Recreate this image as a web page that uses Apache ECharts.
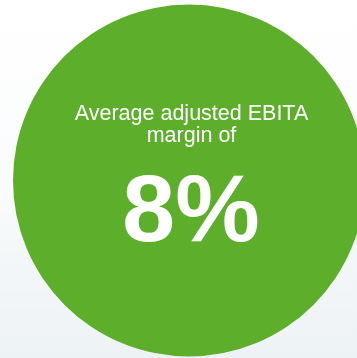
<!DOCTYPE html>
<html>
<head>
<meta charset="utf-8">
<script src="https://cdn.jsdelivr.net/npm/echarts@6/dist/echarts.min.js"></script>
<style>
html,body{margin:0;padding:0;}
#chart{width:357px;height:358px;}
</style>
</head>
<body>
<div id="chart"></div>
<script>
const categories = ["Average adjusted EBITA margin"];
const values = [8];
const labelLines = ["Average adjusted EBITA", "margin of"];
const valueLabel = ["8%"];

const chart = echarts.init(document.getElementById('chart'), null, {renderer: 'canvas'});
chart.setOption({
  backgroundColor: new echarts.graphic.LinearGradient(0, 0, 0, 1, [
    {offset: 0, color: '#ffffff'},
    {offset: 0.45, color: '#fbfcfd'},
    {offset: 1, color: '#edf2f4'}
  ]),
  animation: false,
  title: [
    {
      text: labelLines.join('\n'),
      left: 191.5, top: 103.5, textAlign: 'center', padding: 0,
      textStyle: {color: '#ffffff', fontFamily: 'Liberation Sans, Arial, sans-serif', fontSize: 21.5, fontWeight: 'normal', lineHeight: 22}
    },
    {
      text: valueLabel[0],
      left: 191, top: 167, textAlign: 'center', padding: 0,
      textStyle: {color: '#ffffff', fontFamily: 'Liberation Sans, Arial, sans-serif', fontSize: 95, fontWeight: 'bold', lineHeight: 95}
    }
  ],
  series: [{
    type: 'pie',
    silent: true,
    center: [189, 180.5],
    radius: [0, 176],
    label: {show: false},
    labelLine: {show: false},
    itemStyle: {color: '#5dae2b'},
    emphasis: {disabled: true},
    data: categories.map((c, i) => ({name: c, value: values[i]}))
  }]
});
</script>
</body>
</html>
